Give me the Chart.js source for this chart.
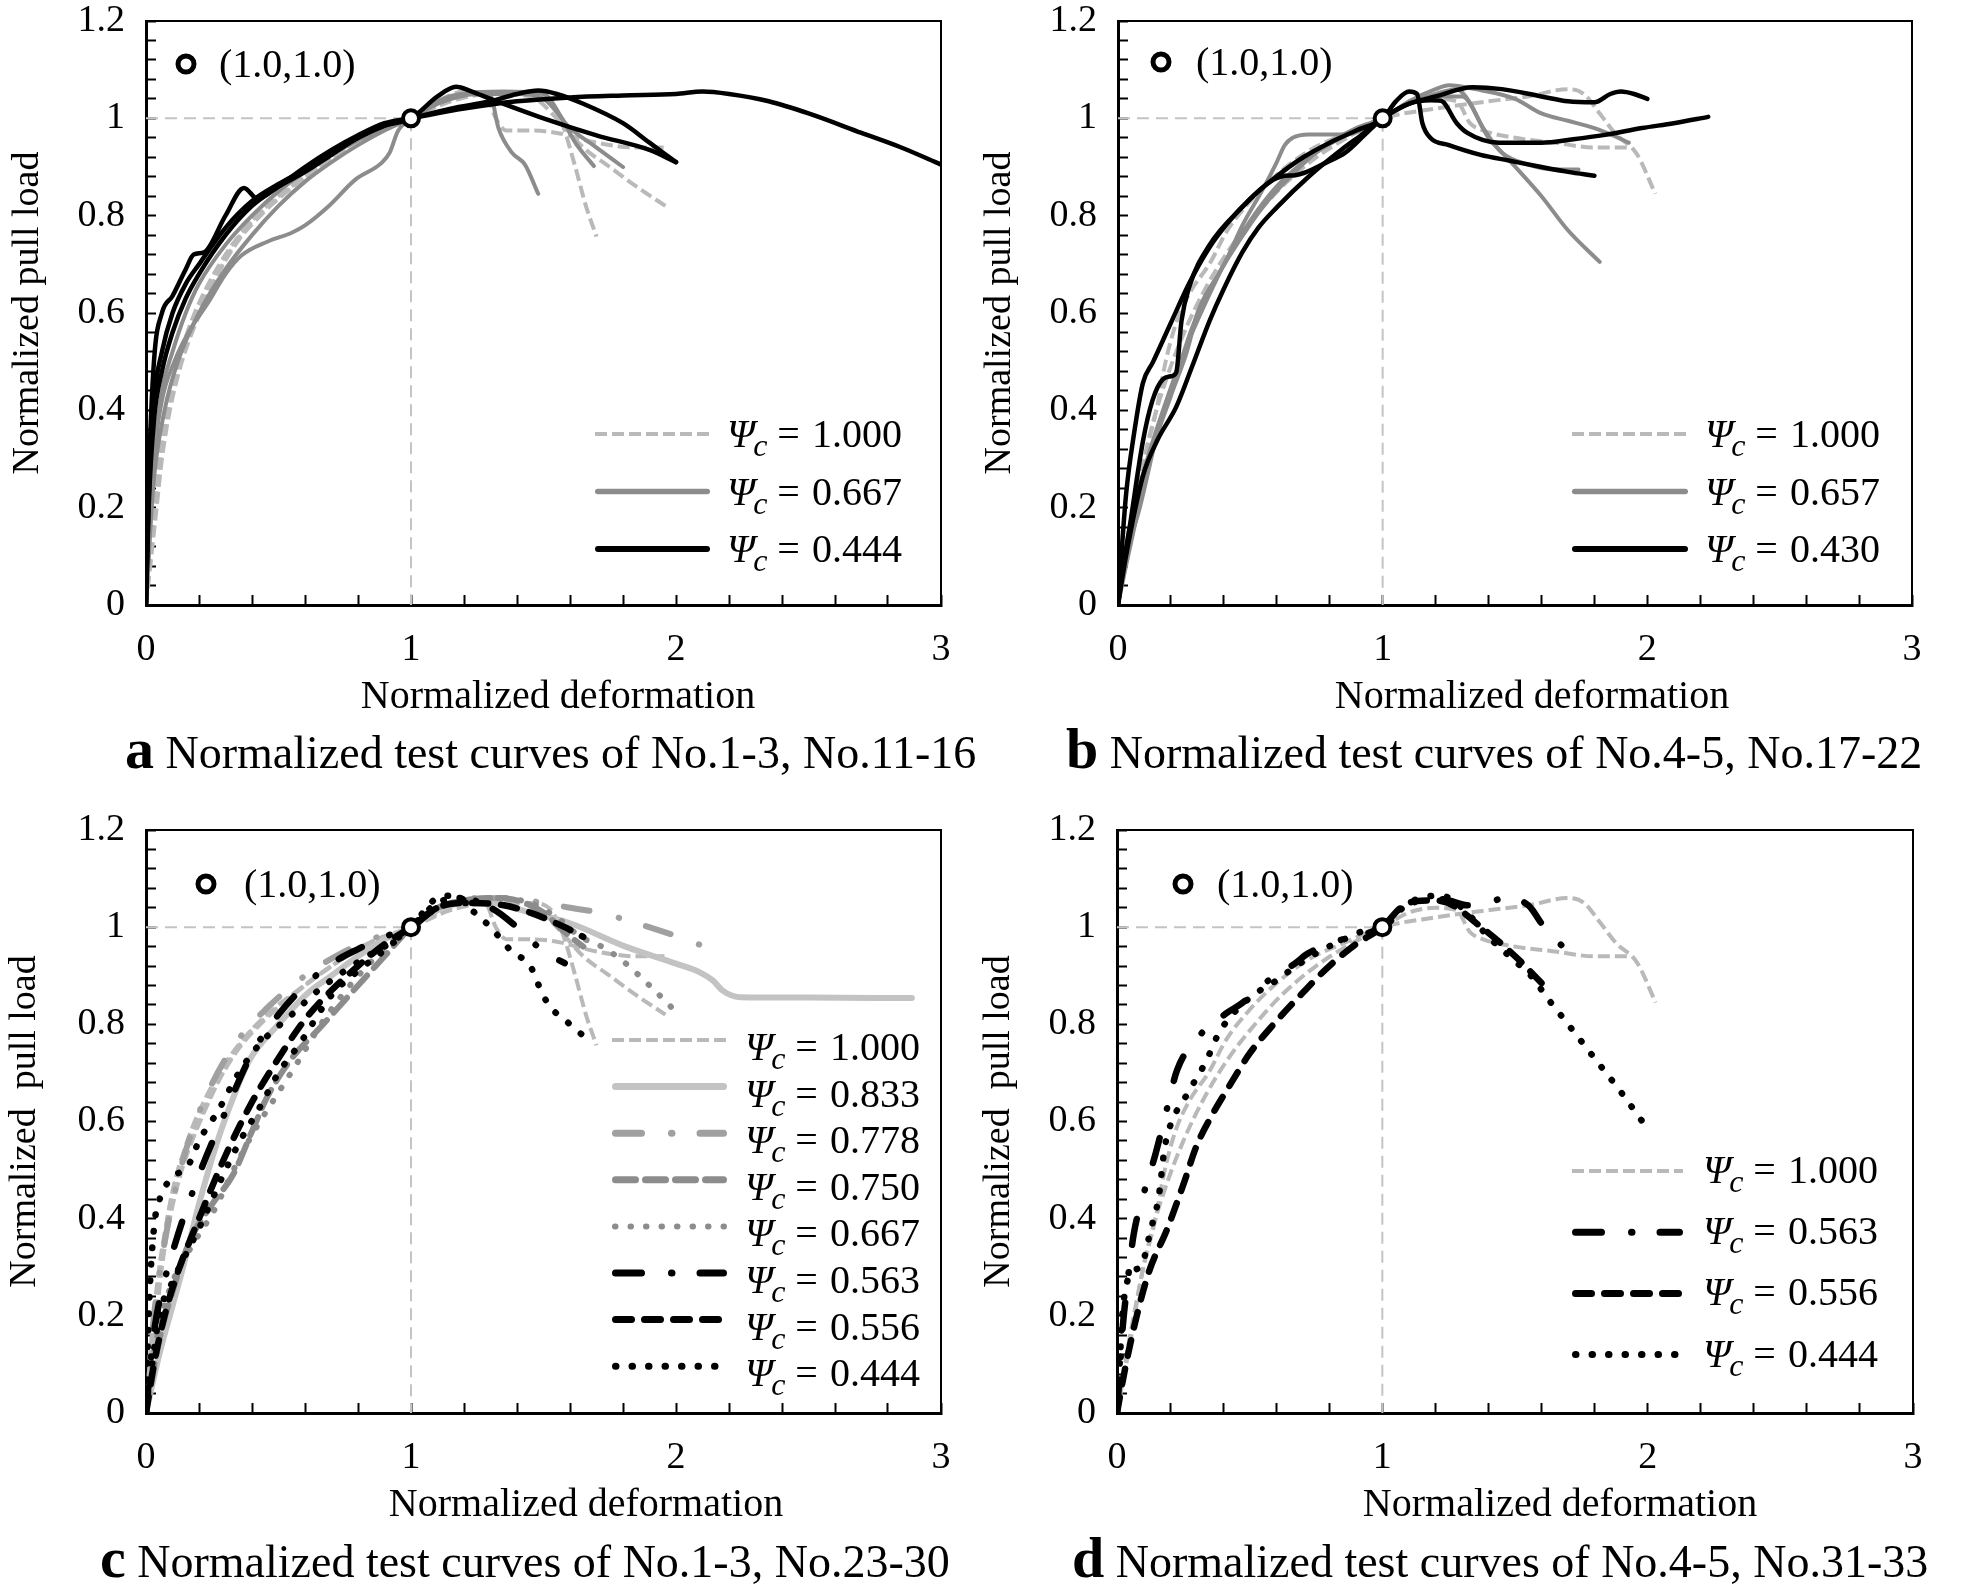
<!DOCTYPE html>
<html lang="en">
<head>
<meta charset="UTF-8"/>
<title>Normalized test curves</title>
<script src="https://cdn.jsdelivr.net/npm/chart.js"></script>
<style>
  body { margin: 0; background: #fff; font-family: "Liberation Serif", serif; color: #000; }
  #page { position: relative; width: 1961px; height: 1595px; overflow: hidden; }
  canvas { position: absolute; }
  .xt { position: absolute; width: 600px; text-align: center; font-size: 40px; line-height: 48px; white-space: nowrap; }
  .cap { position: absolute; font-size: 46px; line-height: 60px; white-space: nowrap; }
  .cap b { font-size: 58px; }
</style>
</head>
<body>
<div id="page">
  <canvas id="ca" width="980" height="720" style="left:0;top:0"></canvas>
  <canvas id="cb" width="981" height="720" style="left:980px;top:0"></canvas>
  <canvas id="cc" width="980" height="740" style="left:0;top:800px"></canvas>
  <canvas id="cd" width="981" height="740" style="left:980px;top:800px"></canvas>

  <div class="xt" style="left:258px;top:671px">Normalized deformation</div>
  <div class="xt" style="left:1232px;top:671px">Normalized deformation</div>
  <div class="xt" style="left:286px;top:1479px">Normalized deformation</div>
  <div class="xt" style="left:1260px;top:1479px">Normalized deformation</div>

  <div class="cap" style="left:125px;top:719px"><b>a</b> Normalized test curves of No.1-3, No.11-16</div>
  <div class="cap" style="left:1066px;top:719px"><b>b</b> Normalized test curves of No.4-5, No.17-22</div>
  <div class="cap" style="left:100px;top:1528px"><b>c</b> Normalized test curves of No.1-3, No.23-30</div>
  <div class="cap" style="left:1072px;top:1528px"><b>d</b> Normalized test curves of No.4-5, No.31-33</div>
</div>

<script>
// legend values (Psi_c) per panel
const psiA = ['1.000', '0.667', '0.444'];
const psiB = ['1.000', '0.657', '0.430'];
const psiC = ['1.000', '0.833', '0.778', '0.750', '0.667', '0.563', '0.556', '0.444'];
const psiD = ['1.000', '0.563', '0.556', '0.444'];

// axis labels
const xTickLabels = [0, 1, 2, 3];
const yTickLabels = [0, 0.2, 0.4, 0.6, 0.8, 1, 1.2];

// reference point and guide line
const peakPoint = [[1, 1]];
const refLine = [[0, 1], [1, 1], [1, 0]];

// No.1-3 (Psi_c = 1.000), shared by a and c
const a_dash1 = [[0,0],[0.02,0.1],[0.04,0.2],[0.06,0.3],[0.09,0.4],[0.13,0.49],[0.16,0.54],[0.22,0.62],[0.3,0.71],[0.385,0.78],[0.49,0.83],[0.6,0.88],[0.7,0.92],[0.8,0.955],[0.9,0.98],[1,1],[1.1,1.035],[1.2,1.055],[1.28,1.05],[1.32,1.0],[1.36,0.975],[1.45,0.975],[1.55,0.97],[1.7,0.95],[1.85,0.94],[1.97,0.94]];
const a_dash2 = [[0,0],[0.02,0.12],[0.05,0.28],[0.08,0.4],[0.12,0.5],[0.18,0.58],[0.25,0.66],[0.35,0.75],[0.45,0.81],[0.55,0.86],[0.7,0.92],[0.85,0.97],[1,1],[1.15,1.04],[1.3,1.05],[1.45,1.05],[1.52,1.04],[1.57,0.99],[1.62,0.9],[1.66,0.82],[1.7,0.757]];
const a_dash3 = [[0,0],[0.02,0.15],[0.05,0.3],[0.1,0.45],[0.15,0.55],[0.2,0.62],[0.3,0.72],[0.4,0.79],[0.5,0.84],[0.6,0.88],[0.7,0.92],[0.8,0.955],[0.9,0.98],[1,1],[1.15,1.035],[1.3,1.05],[1.45,1.045],[1.55,1.0],[1.65,0.94],[1.75,0.9],[1.85,0.86],[1.96,0.82]];

// panel a
const a_gray1 = [[0,0],[0.01,0.1],[0.03,0.3],[0.06,0.42],[0.107,0.5],[0.16,0.56],[0.233,0.62],[0.3,0.68],[0.36,0.718],[0.46,0.747],[0.55,0.765],[0.6,0.78],[0.69,0.82],[0.79,0.874],[0.89,0.909],[0.92,0.93],[0.95,0.973],[1,1],[1.1,1.035],[1.2,1.05],[1.3,1.045],[1.33,0.98],[1.38,0.93],[1.43,0.905],[1.48,0.845]];
const a_gray2 = [[0,0],[0.01,0.12],[0.03,0.3],[0.06,0.44],[0.1,0.52],[0.15,0.6],[0.2,0.66],[0.3,0.74],[0.4,0.8],[0.5,0.85],[0.6,0.89],[0.7,0.925],[0.8,0.955],[0.9,0.98],[1,1],[1.1,1.03],[1.2,1.05],[1.35,1.055],[1.5,1.05],[1.57,1.0],[1.62,0.95],[1.69,0.902]];
const a_gray3 = [[0,0],[0.01,0.1],[0.03,0.26],[0.07,0.4],[0.12,0.5],[0.2,0.6],[0.3,0.69],[0.4,0.76],[0.5,0.82],[0.6,0.87],[0.7,0.91],[0.8,0.945],[0.9,0.975],[1,1],[1.1,1.03],[1.25,1.05],[1.4,1.05],[1.5,1.04],[1.6,0.98],[1.7,0.94],[1.8,0.9]];
const a_black1 = [[0,0],[0.01,0.25],[0.03,0.5],[0.06,0.6],[0.1,0.635],[0.15,0.69],[0.18,0.72],[0.22,0.725],[0.3,0.8],[0.37,0.857],[0.42,0.835],[0.5,0.86],[0.6,0.89],[0.7,0.925],[0.8,0.96],[0.9,0.985],[1,1],[1.1,1.045],[1.17,1.065],[1.23,1.055],[1.3,1.04],[1.5,1.0],[1.7,0.965],[1.9,0.935],[2.0,0.91]];
const a_black2 = [[0,0],[0.01,0.2],[0.03,0.38],[0.06,0.48],[0.1,0.56],[0.15,0.63],[0.2,0.68],[0.3,0.76],[0.4,0.82],[0.5,0.86],[0.6,0.9],[0.7,0.935],[0.8,0.965],[0.9,0.99],[1,1],[1.2,1.02],[1.4,1.035],[1.6,1.043],[1.8,1.047],[2.0,1.05],[2.1,1.055],[2.2,1.05],[2.35,1.035],[2.5,1.01],[2.7,0.97],[2.85,0.94],[3,0.905]];
const a_black3 = [[0,0],[0.01,0.22],[0.03,0.42],[0.06,0.52],[0.1,0.6],[0.15,0.66],[0.2,0.7],[0.3,0.775],[0.4,0.83],[0.5,0.865],[0.6,0.895],[0.7,0.93],[0.8,0.96],[0.9,0.985],[1,1],[1.15,1.02],[1.3,1.035],[1.4,1.05],[1.48,1.057],[1.55,1.05],[1.65,1.03],[1.8,0.99],[1.9,0.95],[2.0,0.91]];

// No.4-5 (Psi_c = 1.000), shared by b and d
const b_dash1 = [[0,0],[0.02,0.06],[0.044,0.127],[0.094,0.286],[0.145,0.4],[0.18,0.5],[0.22,0.58],[0.27,0.64],[0.35,0.705],[0.41,0.767],[0.5,0.83],[0.6,0.884],[0.72,0.933],[0.85,0.966],[1,1],[1.2,1.02],[1.4,1.035],[1.55,1.045],[1.7,1.06],[1.76,1.05],[1.82,1.01],[1.88,0.968],[1.96,0.927],[2.03,0.845]];
const b_dash2 = [[0,0],[0.03,0.1],[0.07,0.22],[0.12,0.35],[0.18,0.46],[0.25,0.56],[0.33,0.65],[0.42,0.73],[0.52,0.8],[0.62,0.86],[0.75,0.92],[0.88,0.965],[1,1],[1.1,1.03],[1.2,1.04],[1.28,1.035],[1.33,0.99],[1.38,0.975],[1.5,0.96],[1.65,0.95],[1.8,0.94],[1.93,0.94]];

// panel b
const b_gray1 = [[0,0],[0.03,0.1],[0.08,0.195],[0.157,0.37],[0.22,0.47],[0.28,0.57],[0.35,0.65],[0.41,0.71],[0.47,0.78],[0.547,0.854],[0.6,0.91],[0.63,0.945],[0.66,0.96],[0.72,0.967],[0.85,0.967],[0.92,0.975],[1,1],[1.1,1.03],[1.2,1.045],[1.3,1.045],[1.4,0.96],[1.48,0.913],[1.6,0.84],[1.7,0.77],[1.82,0.705]];
const b_gray2 = [[0,0],[0.04,0.15],[0.1,0.28],[0.17,0.4],[0.25,0.52],[0.33,0.62],[0.42,0.72],[0.5,0.79],[0.6,0.86],[0.7,0.91],[0.8,0.95],[0.9,0.98],[1,1],[1.1,1.035],[1.2,1.06],[1.25,1.068],[1.35,1.06],[1.5,1.04],[1.6,1.01],[1.7,0.995],[1.8,0.98],[1.87,0.965],[1.93,0.95]];
const b_gray3 = [[0,0],[0.03,0.08],[0.07,0.18],[0.12,0.3],[0.2,0.43],[0.26,0.52],[0.3,0.6],[0.38,0.68],[0.46,0.75],[0.55,0.82],[0.65,0.88],[0.75,0.93],[0.88,0.97],[1,1],[1.1,1.03],[1.2,1.05],[1.28,1.06],[1.32,1.04],[1.38,0.98],[1.45,0.93],[1.55,0.905],[1.65,0.895],[1.74,0.895]];
const b_black1 = [[0,0],[0.015,0.12],[0.031,0.23],[0.06,0.35],[0.094,0.456],[0.132,0.499],[0.2,0.58],[0.27,0.662],[0.34,0.73],[0.41,0.782],[0.5,0.835],[0.6,0.881],[0.7,0.92],[0.8,0.95],[0.9,0.975],[1,1],[1.05,1.035],[1.1,1.055],[1.13,1.05],[1.15,0.99],[1.18,0.96],[1.25,0.945],[1.37,0.925],[1.48,0.913],[1.6,0.9],[1.7,0.89],[1.8,0.882]];
const b_black2 = [[0,0],[0.02,0.08],[0.044,0.16],[0.094,0.336],[0.13,0.42],[0.17,0.464],[0.2,0.47],[0.22,0.478],[0.24,0.584],[0.27,0.655],[0.346,0.74],[0.47,0.818],[0.57,0.868],[0.63,0.882],[0.67,0.883],[0.79,0.91],[0.86,0.93],[0.93,0.965],[1,1],[1.1,1.03],[1.2,1.045],[1.34,1.064],[1.45,1.06],[1.6,1.045],[1.7,1.035],[1.8,1.033],[1.86,1.05],[1.9,1.055],[1.95,1.05],[2.0,1.04]];
const b_black3 = [[0,0],[0.03,0.1],[0.094,0.265],[0.15,0.34],[0.22,0.407],[0.28,0.49],[0.346,0.584],[0.4,0.65],[0.47,0.725],[0.53,0.775],[0.6,0.817],[0.72,0.88],[0.85,0.938],[0.93,0.97],[1,1],[1.1,1.03],[1.18,1.037],[1.22,1.036],[1.28,0.99],[1.32,0.97],[1.44,0.95],[1.6,0.95],[1.72,0.957],[1.84,0.966],[1.98,0.98],[2.1,0.99],[2.23,1.003]];

// panel c
const c_833 = [[0,0],[0.05,0.12],[0.1,0.22],[0.14,0.3],[0.2,0.43],[0.27,0.56],[0.33,0.65],[0.39,0.726],[0.5,0.8],[0.61,0.864],[0.7,0.9],[0.8,0.94],[0.9,0.975],[1,1],[1.1,1.035],[1.2,1.05],[1.3,1.05],[1.45,1.03],[1.6,1.008],[1.81,0.96],[2.0,0.925],[2.09,0.907],[2.14,0.89],[2.175,0.87],[2.24,0.856],[2.5,0.855],[2.89,0.854]];
const c_778 = [[0,0],[0.03,0.2],[0.07,0.35],[0.12,0.48],[0.18,0.59],[0.27,0.7],[0.35,0.77],[0.45,0.83],[0.6,0.9],[0.75,0.95],[0.9,0.985],[1,1],[1.1,1.04],[1.2,1.055],[1.35,1.06],[1.5,1.05],[1.6,1.04],[1.71,1.03],[1.87,1.005],[2.02,0.978],[2.17,0.947]];
const c_750 = [[0,0],[0.05,0.15],[0.1,0.25],[0.165,0.354],[0.25,0.43],[0.33,0.492],[0.4,0.58],[0.457,0.65],[0.55,0.73],[0.66,0.795],[0.8,0.88],[0.9,0.94],[1,1],[1.1,1.04],[1.2,1.055],[1.3,1.06],[1.4,1.055],[1.5,1.03],[1.58,0.99],[1.65,0.96]];
const c_667 = [[0,0],[0.03,0.12],[0.06,0.2],[0.1,0.27],[0.18,0.35],[0.26,0.42],[0.33,0.5],[0.406,0.578],[0.5,0.66],[0.57,0.72],[0.66,0.8],[0.75,0.867],[0.87,0.94],[1,1],[1.15,1.05],[1.3,1.06],[1.45,1.05],[1.55,1.02],[1.64,0.98],[1.72,0.96],[1.8,0.93],[1.9,0.88],[2.005,0.823]];
const c_563 = [[0,0],[0.02,0.12],[0.04,0.2],[0.1,0.33],[0.2,0.49],[0.3,0.62],[0.4,0.74],[0.5,0.82],[0.6,0.88],[0.7,0.925],[0.8,0.955],[0.9,0.98],[1,1],[1.1,1.04],[1.2,1.05],[1.3,1.04],[1.4,1.0],[1.5,0.95],[1.58,0.926]];
const c_556 = [[0,0],[0.03,0.1],[0.07,0.2],[0.12,0.29],[0.2,0.4],[0.3,0.53],[0.4,0.64],[0.5,0.73],[0.6,0.81],[0.7,0.87],[0.8,0.92],[0.9,0.965],[1,1],[1.1,1.04],[1.2,1.05],[1.35,1.045],[1.45,1.03],[1.58,1.0],[1.65,0.98]];
const c_444a = [[0,0],[0.01,0.2],[0.03,0.38],[0.063,0.454],[0.1,0.485],[0.16,0.51],[0.2,0.56],[0.27,0.62],[0.35,0.7],[0.43,0.76],[0.55,0.82],[0.65,0.87],[0.75,0.91],[0.85,0.945],[0.93,0.97],[1,1],[1.1,1.06],[1.17,1.065],[1.24,1.03],[1.3,1.0],[1.38,0.95],[1.45,0.92],[1.49,0.87],[1.52,0.84],[1.6,0.8],[1.66,0.772]];
const c_444b = [[0,0],[0.05,0.2],[0.1,0.27],[0.2,0.38],[0.3,0.5],[0.355,0.56],[0.43,0.63],[0.5,0.7],[0.58,0.76],[0.7,0.86],[0.8,0.91],[0.91,0.957],[1,1],[1.1,1.05],[1.2,1.06],[1.3,1.04]];

// panel d
const d_563 = [[0,0],[0.01,0.08],[0.019,0.16],[0.04,0.27],[0.063,0.368],[0.1,0.45],[0.145,0.533],[0.19,0.63],[0.226,0.705],[0.3,0.77],[0.41,0.822],[0.47,0.843],[0.57,0.89],[0.67,0.925],[0.72,0.946],[0.85,0.975],[1,1],[1.1,1.045],[1.18,1.06],[1.25,1.055],[1.32,1.045],[1.4,1.05],[1.46,1.06],[1.55,1.045],[1.61,1.0],[1.68,0.96]];
const d_556 = [[0,0],[0.03,0.09],[0.07,0.19],[0.12,0.29],[0.19,0.38],[0.25,0.47],[0.3,0.55],[0.36,0.615],[0.42,0.67],[0.5,0.74],[0.59,0.8],[0.7,0.865],[0.8,0.92],[0.9,0.965],[1,1],[1.07,1.04],[1.13,1.054],[1.2,1.055],[1.27,1.044],[1.35,1.01],[1.44,0.97],[1.52,0.93],[1.6,0.885]];
const d_444 = [[0,0],[0.01,0.1],[0.02,0.2],[0.044,0.279],[0.094,0.306],[0.126,0.375],[0.157,0.444],[0.18,0.547],[0.22,0.616],[0.25,0.643],[0.283,0.674],[0.314,0.702],[0.346,0.736],[0.37,0.767],[0.4,0.796],[0.47,0.84],[0.54,0.87],[0.6,0.89],[0.65,0.91],[0.75,0.946],[0.836,0.97],[0.94,0.994],[1,1],[1.1,1.05],[1.22,1.065],[1.3,1.04],[1.4,0.98],[1.5,0.93],[1.56,0.9],[1.625,0.852],[1.7,0.8],[1.8,0.73],[1.9,0.66],[1.98,0.6]];

// line looks
const LIGHT_DASH    = { color: '#b9b9b9', width: 4, dash: [12, 5], cap: 'butt', key: 4 };
const GRAY_SOLID    = { color: '#8c8c8c', width: 4, dash: [], cap: 'round', key: 5.5 };
const BLACK_SOLID   = { color: '#000000', width: 4.5, dash: [], cap: 'round', key: 6 };
const LIGHT_SOLID   = { color: '#c3c3c3', width: 6, dash: [], cap: 'round', key: 7 };
const LIGHT_DASHDOT = { color: '#a0a0a0', width: 6, dash: [26, 30, 0.5, 28], cap: 'round', key: 7 };
const GRAY_DASH     = { color: '#8c8c8c', width: 6, dash: [20, 10], cap: 'round', key: 7 };
const GRAY_DOT      = { color: '#8c8c8c', width: 6, dash: [0.5, 15], cap: 'round', key: 6 };
const BLACK_DASHDOT = { color: '#000000', width: 6.5, dash: [26, 30, 0.5, 28], cap: 'round', key: 7 };
const BLACK_DASH    = { color: '#000000', width: 6.5, dash: [16, 13], cap: 'round', key: 7 };
const BLACK_DOT     = { color: '#000000', width: 6.5, dash: [0.5, 16], cap: 'round', key: 7 };

Chart.defaults.font.family = '"Liberation Serif", serif';
Chart.defaults.color = '#000';

const xMinor = [], yMinor = [];
for (let i = 0; i <= 15; i++) xMinor.push(+(i * 0.2).toFixed(2));
for (let i = 0; i <= 30; i++) yMinor.push(+(i * 0.04).toFixed(2));

function toXY(p) { return { x: p[0], y: p[1] }; }

function curveSet(curve, look) {
  return {
    data: curve.map(toXY),
    borderColor: look.color,
    borderWidth: look.width,
    borderDash: look.dash,
    borderCapStyle: look.cap,
    borderJoinStyle: 'round',
    pointRadius: 0,
    fill: false,
    cubicInterpolationMode: 'monotone'
  };
}

// frame, (1.0,1.0) note and Psi_c legend
const decor = {
  id: 'decor',
  afterDatasetsDraw(chart, args, o) {
    const { ctx, chartArea: ca } = chart;
    ctx.save();
    ctx.strokeStyle = '#000';
    ctx.lineWidth = 2;
    ctx.setLineDash([]);
    ctx.beginPath();
    ctx.moveTo(ca.left, ca.top);
    ctx.lineTo(ca.right, ca.top);
    ctx.lineTo(ca.right, ca.bottom);
    ctx.stroke();

    // note
    const n = o.note;
    ctx.beginPath();
    ctx.arc(ca.left + n.cx, ca.top + n.cy, 8, 0, Math.PI * 2);
    ctx.fillStyle = '#fff';
    ctx.fill();
    ctx.lineWidth = 5;
    ctx.stroke();
    ctx.fillStyle = '#000';
    ctx.textBaseline = 'alphabetic';
    ctx.font = '40px "Liberation Serif"';
    ctx.fillText('(1.0,1.0)', ca.left + n.tx, ca.top + n.cy + 13);

    // legend
    const L = o.legend;
    o.groups.forEach((g, i) => {
      const y = ca.top + L.rowY + i * L.gap;
      const lk = g.look;
      const x0 = ca.left + L.sampleX, x1 = x0 + L.sampleW;
      const inset = lk.cap === 'round' ? lk.key / 2 : 0;
      ctx.save();
      ctx.strokeStyle = lk.color;
      ctx.lineWidth = lk.key;
      ctx.lineCap = lk.cap;
      ctx.setLineDash(lk.dash);
      ctx.beginPath();
      ctx.moveTo(x0 + inset, y);
      ctx.lineTo(x1 - inset, y);
      ctx.stroke();
      ctx.restore();

      let tx = ca.left + L.textX;
      const by = y + L.textDy;
      ctx.fillStyle = '#000';
      ctx.font = 'italic 40px "Liberation Serif"';
      ctx.fillText('\u03A8', tx, by);
      tx += ctx.measureText('\u03A8').width - 2;
      ctx.font = 'italic 32px "Liberation Serif"';
      ctx.fillText('c', tx, by + 9);
      tx += ctx.measureText('c').width + 10;
      ctx.font = '40px "Liberation Serif"';
      ctx.fillText('=', tx, by);
      tx += ctx.measureText('=').width + 12;
      ctx.fillText(g.psi, tx, by);
    });
    ctx.restore();
  }
};

function makeChart(p) {
  const datasets = [{
    data: peakPoint.map(toXY),
    showLine: false,
    pointRadius: 8,
    pointBorderWidth: 4,
    pointBackgroundColor: '#fff',
    pointBorderColor: '#000'
  }];
  for (let g = p.groups.length - 1; g >= 0; g--) {
    p.groups[g].curves.forEach(c => datasets.push(curveSet(c, p.groups[g].look)));
  }
  datasets.push({
    data: refLine.map(toXY),
    borderColor: '#c4c4c4',
    borderWidth: 2,
    borderDash: [12, 7],
    pointRadius: 0,
    tension: 0
  });

  const tickFont = { size: 38, lineHeight: 1 };
  new Chart(document.getElementById(p.id), {
    type: 'line',
    data: { datasets },
    plugins: [decor],
    options: {
      responsive: false,
      animation: false,
      devicePixelRatio: 1,
      layout: { padding: { left: 0, top: p.top, right: p.right, bottom: 0 } },
      plugins: {
        legend: { display: false },
        tooltip: { enabled: false },
        decor: { groups: p.groups, legend: p.legend, note: p.note }
      },
      scales: {
        x: {
          type: 'linear', min: 0, max: 3,
          afterBuildTicks: s => { s.ticks = xMinor.map(v => ({ value: v })); },
          afterFit: s => { s.height = p.xH; s.paddingLeft = 0; s.paddingRight = 0; },
          ticks: {
            autoSkip: false, maxRotation: 0, padding: 36, font: tickFont, color: '#000',
            callback: v => { const t = xTickLabels.find(k => Math.abs(k - v) < 1e-9); return t === undefined ? '' : String(t); }
          },
          grid: { drawOnChartArea: false, drawTicks: true, tickLength: -10, tickWidth: 2, tickColor: '#000' },
          border: { display: true, color: '#000', width: 3 }
        },
        y: {
          type: 'linear', min: 0, max: 1.2,
          afterBuildTicks: s => { s.ticks = yMinor.map(v => ({ value: v })); },
          afterFit: s => { s.width = p.yW; s.paddingTop = 0; s.paddingBottom = 0; },
          ticks: {
            autoSkip: false, padding: 31, font: tickFont, color: '#000',
            callback: v => { const t = yTickLabels.find(k => Math.abs(k - v) < 1e-9); return t === undefined ? '' : String(t); }
          },
          grid: { drawOnChartArea: false, drawTicks: true, tickLength: -10, tickWidth: 2, tickColor: '#000' },
          border: { display: true, color: '#000', width: 3 },
          title: {
            display: true, text: p.yTitle, color: '#000',
            font: { size: 38, lineHeight: 1 },
            padding: { top: p.yTitlePad, bottom: 0 }
          }
        }
      }
    }
  });
}

makeChart({
  id: 'ca', yW: 146, top: 21, right: 39, xH: 115,
  yTitle: 'Normalized pull load', yTitlePad: 9,
  groups: [
    { psi: psiA[0], look: LIGHT_DASH, curves: [a_dash1, a_dash2, a_dash3] },
    { psi: psiA[1], look: GRAY_SOLID, curves: [a_gray1, a_gray2, a_gray3] },
    { psi: psiA[2], look: BLACK_SOLID, curves: [a_black1, a_black2, a_black3] }
  ],
  legend: { sampleX: 449, sampleW: 115, textX: 581, rowY: 413, gap: 57.5, textDy: 13 },
  note: { cx: 40, cy: 43, tx: 73 }
});

makeChart({
  id: 'cb', yW: 138, top: 21, right: 49, xH: 115,
  yTitle: 'Normalized pull load', yTitlePad: 1,
  groups: [
    { psi: psiB[0], look: LIGHT_DASH, curves: [b_dash1, b_dash2] },
    { psi: psiB[1], look: GRAY_SOLID, curves: [b_gray1, b_gray2, b_gray3] },
    { psi: psiB[2], look: BLACK_SOLID, curves: [b_black1, b_black2, b_black3] }
  ],
  legend: { sampleX: 454, sampleW: 116, textX: 587, rowY: 413, gap: 57.5, textDy: 13 },
  note: { cx: 43, cy: 41, tx: 78 }
});

makeChart({
  id: 'cc', yW: 146, top: 30, right: 39, xH: 127,
  yTitle: 'Normalized  pull load', yTitlePad: 6,
  groups: [
    { psi: psiC[0], look: LIGHT_DASH, curves: [a_dash1, a_dash2, a_dash3] },
    { psi: psiC[1], look: LIGHT_SOLID, curves: [c_833] },
    { psi: psiC[2], look: LIGHT_DASHDOT, curves: [c_778] },
    { psi: psiC[3], look: GRAY_DASH, curves: [c_750] },
    { psi: psiC[4], look: GRAY_DOT, curves: [c_667] },
    { psi: psiC[5], look: BLACK_DASHDOT, curves: [c_563] },
    { psi: psiC[6], look: BLACK_DASH, curves: [c_556] },
    { psi: psiC[7], look: BLACK_DOT, curves: [c_444a, c_444b] }
  ],
  legend: { sampleX: 466, sampleW: 115, textX: 599, rowY: 210, gap: 46.6, textDy: 20 },
  note: { cx: 60, cy: 54, tx: 98 }
});

makeChart({
  id: 'cd', yW: 137, top: 30, right: 48, xH: 127,
  yTitle: 'Normalized  pull load', yTitlePad: 0,
  groups: [
    { psi: psiD[0], look: LIGHT_DASH, curves: [b_dash1, b_dash2] },
    { psi: psiD[1], look: BLACK_DASHDOT, curves: [d_563] },
    { psi: psiD[2], look: BLACK_DASH, curves: [d_556] },
    { psi: psiD[3], look: BLACK_DOT, curves: [d_444] }
  ],
  legend: { sampleX: 455, sampleW: 111, textX: 586, rowY: 341, gap: 61.2, textDy: 12 },
  note: { cx: 66, cy: 54, tx: 100 }
});
</script>
</body>
</html>
